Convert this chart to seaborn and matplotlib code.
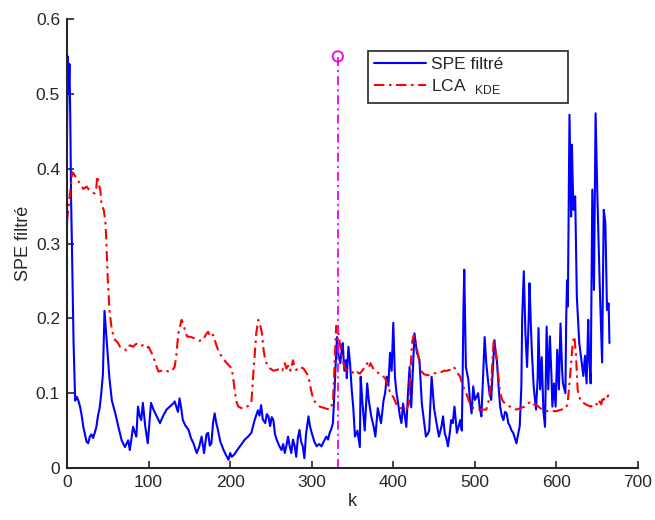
import matplotlib
matplotlib.use("Agg")
import matplotlib.pyplot as plt
import seaborn as sns
import pandas as pd

# ---------------- data ----------------
spe_k = [0, 1, 2, 3, 4, 5, 6, 8, 10, 12,
         14, 16, 18, 20, 22, 24, 26, 28, 30, 32,
         34, 36, 38, 40, 42, 44, 46, 48, 50, 52,
         55, 59, 63, 67, 71, 75, 77, 79, 81, 83,
         85, 87, 89, 91, 93, 96, 99, 101, 103, 106,
         110, 114, 118, 122, 126, 130, 132, 134, 136, 138,
         140, 142, 145, 149, 152, 155, 159, 162, 165, 168,
         171, 173, 175, 177, 179, 181, 183, 185, 188, 192,
         195, 198, 200, 202, 205, 210, 214, 218, 222, 226,
         230, 234, 236, 238, 240, 243, 245, 247, 249, 251,
         253, 255, 257, 260, 263, 265, 267, 269, 271, 273,
         275, 277, 279, 281, 283, 285, 287, 289, 291, 293,
         296, 298, 300, 303, 306, 309, 312, 315, 318, 320,
         322, 324, 326, 328, 329, 331, 333, 335, 337, 338,
         340, 342, 343, 345, 347, 349, 351, 353, 356, 359,
         360, 362, 365, 368, 370, 373, 376, 378, 381, 383,
         385, 388, 390, 392, 394, 396, 398, 400, 402, 404,
         406, 408, 410, 412, 414, 416, 418, 420, 422, 424,
         426, 429, 432, 435, 438, 440, 442, 444, 447, 450,
         453, 456, 459, 461, 463, 465, 467, 469, 471, 473,
         475, 478, 480, 482, 484, 485, 486, 487, 489, 492,
         494, 496, 498, 500, 502, 504, 506, 508, 510, 512,
         514, 516, 518, 520, 522, 524, 526, 527, 529, 531,
         533, 535, 537, 539, 541, 543, 545, 547, 549, 551,
         553, 555, 557, 558, 560, 562, 564, 566, 567, 569,
         570, 572, 575, 577, 578, 580, 582, 584, 586, 588,
         590, 592, 594, 595, 597, 599, 601, 603, 605, 607,
         608, 611, 612, 613, 614, 615, 616, 617, 618, 619,
         620, 621, 623, 625, 628, 631, 633, 635, 637, 639,
         640, 642, 644, 646, 648, 650, 653, 656, 658, 660,
         662, 664, 665]
spe_v = [0.44, 0.55, 0.50, 0.54, 0.47, 0.36, 0.30, 0.17, 0.09, 0.095,
         0.09, 0.082, 0.07, 0.055, 0.045, 0.035, 0.033, 0.042, 0.045, 0.04,
         0.047, 0.055, 0.07, 0.08, 0.10, 0.125, 0.21, 0.18, 0.15, 0.12,
         0.09, 0.074, 0.055, 0.037, 0.028, 0.037, 0.024, 0.04, 0.055, 0.048,
         0.042, 0.082, 0.07, 0.064, 0.087, 0.055, 0.033, 0.06, 0.087, 0.078,
         0.069, 0.06, 0.07, 0.078, 0.082, 0.086, 0.089, 0.082, 0.075, 0.093,
         0.08, 0.064, 0.057, 0.051, 0.04, 0.033, 0.02, 0.028, 0.042, 0.02,
         0.045, 0.047, 0.03, 0.033, 0.06, 0.073, 0.06, 0.051, 0.035, 0.024,
         0.017, 0.011, 0.02, 0.015, 0.018, 0.026, 0.032, 0.038, 0.042, 0.047,
         0.064, 0.077, 0.07, 0.084, 0.065, 0.06, 0.072, 0.069, 0.056, 0.068,
         0.064, 0.045, 0.038, 0.03, 0.024, 0.032, 0.02, 0.03, 0.042, 0.029,
         0.02, 0.038, 0.03, 0.015, 0.04, 0.051, 0.035, 0.029, 0.013, 0.045,
         0.069, 0.055, 0.047, 0.036, 0.029, 0.032, 0.029, 0.036, 0.042, 0.038,
         0.047, 0.052, 0.06, 0.104, 0.13, 0.175, 0.15, 0.14, 0.16, 0.167,
         0.13, 0.144, 0.12, 0.162, 0.14, 0.105, 0.08, 0.042, 0.05, 0.028,
         0.122, 0.09, 0.05, 0.113, 0.09, 0.069, 0.055, 0.042, 0.08, 0.07,
         0.06, 0.09, 0.10, 0.122, 0.11, 0.154, 0.13, 0.194, 0.122, 0.10,
         0.086, 0.07, 0.06, 0.086, 0.07, 0.055, 0.10, 0.135, 0.081, 0.13,
         0.18, 0.154, 0.145, 0.086, 0.06, 0.042, 0.045, 0.05, 0.122, 0.08,
         0.06, 0.042, 0.055, 0.069, 0.047, 0.04, 0.029, 0.045, 0.064, 0.06,
         0.082, 0.047, 0.055, 0.064, 0.05, 0.12, 0.211, 0.265, 0.135, 0.118,
         0.09, 0.073, 0.109, 0.091, 0.095, 0.10, 0.08, 0.069, 0.12, 0.175,
         0.14, 0.118, 0.10, 0.091, 0.13, 0.171, 0.15, 0.144, 0.11, 0.082,
         0.07, 0.064, 0.075, 0.073, 0.06, 0.056, 0.05, 0.047, 0.04, 0.033,
         0.045, 0.056, 0.109, 0.20, 0.263, 0.18, 0.135, 0.20, 0.247, 0.18,
         0.153, 0.11, 0.078, 0.12, 0.187, 0.105, 0.148, 0.077, 0.055, 0.189,
         0.105, 0.176, 0.12, 0.082, 0.113, 0.082, 0.158, 0.105, 0.193, 0.13,
         0.113, 0.10, 0.20, 0.251, 0.216, 0.35, 0.472, 0.40, 0.336, 0.432,
         0.38, 0.345, 0.363, 0.229, 0.167, 0.141, 0.123, 0.15, 0.113, 0.198,
         0.15, 0.113, 0.372, 0.238, 0.474, 0.372, 0.247, 0.141, 0.345, 0.327,
         0.211, 0.22, 0.167]

lca_k = [0, 2, 4, 6, 7, 10, 12, 16, 20, 24,
         27, 30, 34, 36, 37, 39, 41, 42.5, 45, 47,
         48, 50, 52, 55, 59, 62, 65, 69, 73, 77,
         81, 85, 89, 93, 97, 100, 104, 107, 110, 112,
         116, 120, 124, 128, 132, 134, 136.5, 140.5, 143, 147,
         152, 157, 162, 167, 170, 173, 176, 179, 182, 185,
         190, 196, 202, 204, 206, 208, 210, 214, 218, 222,
         226, 228, 230, 232, 234.5, 237, 239, 241, 243, 246,
         249, 253, 257, 261, 264, 267, 269, 272, 274, 277,
         279, 281, 285, 290, 293, 296, 299, 302, 306, 310,
         316, 322, 326, 328, 330, 332, 334, 337, 340, 343,
         348, 353, 356, 359, 362, 365, 368, 370, 372, 376,
         380, 385, 390, 394, 397, 400, 404, 408, 412, 416,
         419, 421, 423, 425, 428, 431, 434, 438, 443, 448,
         453, 457, 462, 466, 469, 472, 475, 478, 482, 485,
         488, 491, 494, 498, 502, 508, 514, 517, 520, 523,
         525, 527, 529, 531, 534, 537, 543, 551, 556, 561,
         565, 569, 572, 575, 580, 586, 593, 600, 606, 612,
         614, 616, 618, 620, 622, 624, 626, 628, 630, 636,
         642, 646, 648, 651, 653, 655, 657, 659, 661, 664]
lca_v = [0.33, 0.35, 0.37, 0.39, 0.395, 0.39, 0.387, 0.38, 0.373, 0.376,
         0.372, 0.369, 0.367, 0.375, 0.39, 0.38, 0.37, 0.351, 0.345, 0.33,
         0.309, 0.251, 0.211, 0.184, 0.171, 0.168, 0.162, 0.16, 0.157, 0.164,
         0.162, 0.166, 0.163, 0.164, 0.16, 0.162, 0.153, 0.145, 0.135, 0.129,
         0.13, 0.131, 0.129, 0.129, 0.135, 0.15, 0.18, 0.198, 0.19, 0.176,
         0.175, 0.173, 0.17, 0.171, 0.178, 0.182, 0.175, 0.178, 0.168, 0.158,
         0.148, 0.14, 0.133, 0.118, 0.10, 0.088, 0.082, 0.08, 0.08, 0.083,
         0.087, 0.12, 0.149, 0.18, 0.198, 0.19, 0.18, 0.158, 0.144, 0.137,
         0.133, 0.13, 0.131, 0.133, 0.13, 0.14, 0.133, 0.138, 0.13, 0.144,
         0.135, 0.131, 0.135, 0.133, 0.128, 0.122, 0.105, 0.091, 0.086, 0.082,
         0.08, 0.078, 0.087, 0.14, 0.19, 0.187, 0.17, 0.149, 0.135, 0.131,
         0.13, 0.125, 0.128, 0.126, 0.13, 0.135, 0.14, 0.134, 0.14, 0.132,
         0.128, 0.125, 0.12, 0.108, 0.098, 0.095, 0.085, 0.08, 0.08, 0.078,
         0.085, 0.13, 0.168, 0.177, 0.165, 0.148, 0.13, 0.125, 0.124, 0.126,
         0.127, 0.127, 0.13, 0.13, 0.131, 0.13, 0.134, 0.128, 0.122, 0.11,
         0.104, 0.095, 0.086, 0.08, 0.078, 0.078, 0.078, 0.09, 0.113, 0.171,
         0.16, 0.144, 0.12, 0.10, 0.09, 0.086, 0.082, 0.078, 0.08, 0.082,
         0.086, 0.089, 0.085, 0.085, 0.08, 0.076, 0.076, 0.076, 0.078, 0.08,
         0.09, 0.113, 0.14, 0.167, 0.176, 0.15, 0.105, 0.095, 0.089, 0.085,
         0.082, 0.085, 0.087, 0.083, 0.089, 0.085, 0.096, 0.09, 0.092, 0.098]

alarm_k = [332, 332]
alarm_v = [0.0, 0.55]

x_ticks = [0, 100, 200, 300, 400, 500, 600, 700]
y_ticks = [0, 0.1, 0.2, 0.3, 0.4, 0.5, 0.6]
y_tick_labels = ["0", "0.1", "0.2", "0.3", "0.4", "0.5", "0.6"]

label_spe = "SPE filtré"
label_lca = "LCA  $_{\\mathregular{KDE}}$"

# ---------------- style ----------------
sns.set_style("white")
plt.rcParams["font.family"] = ["Liberation Sans", "DejaVu Sans"]
plt.rcParams["mathtext.fontset"] = "custom"
plt.rcParams["mathtext.rm"] = "Liberation Sans"

fig = plt.figure(figsize=(6.55, 5.2), dpi=100)
ax = fig.add_axes([67 / 655, 52 / 520, 571 / 655, 449 / 520])

df_spe = pd.DataFrame({"k": spe_k, "v": spe_v})
df_lca = pd.DataFrame({"k": lca_k, "v": lca_v})
df_alarm = pd.DataFrame({"k": alarm_k, "v": alarm_v})

sns.lineplot(data=df_spe, x="k", y="v", ax=ax, color="#0000ff", lw=1.5,
             sort=False, estimator=None, label=label_spe)
sns.lineplot(data=df_lca, x="k", y="v", ax=ax, color="#ff0000", lw=1.5,
             sort=False, estimator=None, label=label_lca)
ax.lines[-1].set_dashes((5, 2.2, 1.2, 2.2))
sns.lineplot(data=df_alarm, x="k", y="v", ax=ax, color="#ee00ee", lw=1.3,
             sort=False, estimator=None, legend=False)
ax.lines[-1].set_dashes((5, 2.2, 1.2, 2.2))
sns.scatterplot(x=alarm_k[-1:], y=alarm_v[-1:], ax=ax, marker="o", s=55,
                facecolor="none", edgecolor="#ee00ee", linewidth=1.3, legend=False)

ax.set_xlim(0, 700)
ax.set_ylim(0, 0.6)
ax.set_xticks(x_ticks)
ax.set_yticks(y_ticks)
ax.set_yticklabels(y_tick_labels)
ax.tick_params(bottom=True, left=True, top=False, right=False,
               direction="in", length=5, width=1.2, labelsize=12.5,
               colors="#262626", pad=5)
ax.set_xlabel("k", fontsize=13, color="#262626", labelpad=2)
ax.set_ylabel("SPE filtré", fontsize=13, color="#262626", labelpad=3)

for side in ("top", "right"):
    ax.spines[side].set_visible(False)
for side in ("left", "bottom"):
    ax.spines[side].set_color("#262626")
    ax.spines[side].set_linewidth(1.5)

h = 51 / 449
leg = ax.legend(loc="upper left", bbox_to_anchor=(301 / 571, 417 / 449 - h, 200 / 571, h),
                mode="expand", fontsize=12.5, frameon=True, fancybox=False,
                edgecolor="#262626", handlelength=3.0, handletextpad=0.3,
                borderpad=0.35, labelspacing=0.3, borderaxespad=0)
leg.get_frame().set_linewidth(1.2)
leg.get_frame().set_facecolor("white")
leg.get_frame().set_alpha(1.0)

fig.savefig("out.png", dpi=100)
